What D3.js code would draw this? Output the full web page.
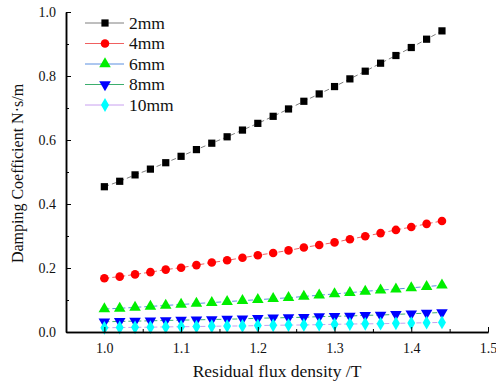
<!DOCTYPE html>
<html>
<head>
<meta charset="utf-8">
<script src="https://cdn.jsdelivr.net/npm/d3@7/dist/d3.min.js"></script>
<style>
  html, body { margin: 0; padding: 0; background: #fff; }
  svg { display: block; }
  text { font-family: "Liberation Serif", "Times New Roman", serif; fill: #111; }
</style>
</head>
<body>
<svg id="chart" width="496" height="383"></svg>
<script>
// Residual flux density (T)
const fluxDensity = [1.00, 1.02, 1.04, 1.06, 1.08, 1.10, 1.12, 1.14, 1.16, 1.18, 1.20, 1.22,
                     1.24, 1.26, 1.28, 1.30, 1.32, 1.34, 1.36, 1.38, 1.40, 1.42, 1.44];

// Damping coefficient (N·s/m) for each gap
const gap2mm  = [0.454, 0.471, 0.491, 0.509, 0.529, 0.549, 0.570, 0.590, 0.610, 0.631, 0.652, 0.674,
                 0.697, 0.721, 0.744, 0.767, 0.791, 0.815, 0.840, 0.864, 0.889, 0.915, 0.941];
const gap4mm  = [0.168, 0.173, 0.180, 0.187, 0.195, 0.201, 0.209, 0.217, 0.224, 0.232, 0.240, 0.247,
                 0.255, 0.264, 0.272, 0.280, 0.290, 0.299, 0.309, 0.319, 0.328, 0.338, 0.347];
const gap6mm  = [0.072, 0.074, 0.077, 0.080, 0.083, 0.086, 0.089, 0.092, 0.095, 0.098, 0.101, 0.104,
                 0.107, 0.111, 0.115, 0.119, 0.123, 0.127, 0.131, 0.134, 0.138, 0.142, 0.146];
const gap8mm  = [0.032, 0.033, 0.034, 0.035, 0.036, 0.037, 0.038, 0.039, 0.040, 0.041, 0.043, 0.044,
                 0.045, 0.046, 0.048, 0.049, 0.050, 0.052, 0.053, 0.055, 0.057, 0.059, 0.061];
const gap10mm = [0.013, 0.014, 0.0145, 0.015, 0.016, 0.0165, 0.017, 0.018, 0.0185, 0.019, 0.020, 0.021,
                 0.0215, 0.022, 0.023, 0.024, 0.025, 0.0255, 0.026, 0.027, 0.028, 0.029, 0.030];

const seriesNames = ["2mm", "4mm", "6mm", "8mm", "10mm"];
const xTicks = [1.0, 1.1, 1.2, 1.3, 1.4, 1.5];
const yTicks = [0.0, 0.2, 0.4, 0.6, 0.8, 1.0];

const styles = [
  { values: gap2mm,  fill: "#000000", line: "#7f7f7f", symbol: d3.symbolSquare,   size: 52, rot: 0 },
  { values: gap4mm,  fill: "#ff0000", line: "#f06060", symbol: d3.symbolCircle,   size: 58, rot: 0 },
  { values: gap6mm,  fill: "#00ee00", line: "#5b8fe0", symbol: d3.symbolTriangle, size: 58, rot: 0 },
  { values: gap8mm,  fill: "#0000ff", line: "#3cae6e", symbol: d3.symbolTriangle, size: 58, rot: 180 },
  { values: gap10mm, fill: "#00ffff", line: "#c8a0f0", symbol: d3.symbolDiamond,  size: 55, rot: 0 }
];

const svg = d3.select("#chart");
const margin = { left: 66, right: 8, top: 12, bottom: 51 };
const W = 496, H = 383;

const x = d3.scaleLinear().domain([0.95, 1.5]).range([margin.left, W - margin.right]);
const y = d3.scaleLinear().domain([0, 1.0]).range([H - margin.bottom, margin.top]);

// Series: dashed connecting lines then markers
const line = d3.line().x((d, i) => x(fluxDensity[i])).y(d => y(d));
styles.forEach(s => {
  svg.append("path")
    .attr("d", line(s.values))
    .attr("fill", "none")
    .attr("stroke", s.line)
    .attr("stroke-width", 1)
    .attr("stroke-dasharray", "5,3");
});
styles.forEach(s => {
  const sym = d3.symbol().type(s.symbol).size(s.size);
  svg.append("g").selectAll("path")
    .data(s.values)
    .join("path")
    .attr("d", sym)
    .attr("fill", s.fill)
    .attr("transform", (d, i) => `translate(${x(fluxDensity[i])},${y(d)}) rotate(${s.rot})`);
});

// Axes with inward ticks
const xAxis = d3.axisBottom(x).tickValues(xTicks).tickFormat(d3.format(".1f")).tickSizeInner(-5).tickSizeOuter(0).tickPadding(11);
const xMinor = d3.axisBottom(x).tickValues(d3.range(1.05, 1.5, 0.1)).tickFormat("").tickSizeInner(-3).tickSizeOuter(0);
const yAxis = d3.axisLeft(y).tickValues(yTicks).tickFormat(d3.format(".1f")).tickSizeInner(-5).tickSizeOuter(0).tickPadding(10);
const yMinor = d3.axisLeft(y).tickValues([0.1, 0.3, 0.5, 0.7, 0.9]).tickFormat("").tickSizeInner(-3).tickSizeOuter(0);

function styleAxis(g) {
  g.select(".domain").attr("stroke", "#000").attr("stroke-width", 1.5);
  g.selectAll(".tick line").attr("stroke", "#000").attr("stroke-width", 1);
  g.selectAll(".tick text").attr("font-family", "Liberation Serif, serif").attr("font-size", 14).attr("fill", "#222");
}

svg.append("g").attr("transform", `translate(0,${H - margin.bottom})`).call(xMinor).call(styleAxis);
svg.append("g").attr("transform", `translate(0,${H - margin.bottom})`).call(xAxis).call(styleAxis);
svg.append("g").attr("transform", `translate(${margin.left},0)`).call(yMinor).call(styleAxis);
svg.append("g").attr("transform", `translate(${margin.left},0)`).call(yAxis).call(styleAxis);

// Axis titles
svg.append("text")
  .attr("x", (x.range()[0] + x.range()[1]) / 2)
  .attr("y", 377)
  .attr("text-anchor", "middle")
  .attr("font-size", 17.5)
  .text("Residual flux density /T");

svg.append("text")
  .attr("transform", `translate(23,173.5) rotate(-90)`)
  .attr("text-anchor", "middle")
  .attr("font-size", 16)
  .text("Damping Coefficient N·s/m");

// Legend
const legend = svg.append("g");
styles.forEach((s, i) => {
  const ly = 23 + i * 20.5;
  legend.append("line")
    .attr("x1", 85).attr("x2", 124).attr("y1", ly).attr("y2", ly)
    .attr("stroke", s.line).attr("stroke-width", 1);
  legend.append("path")
    .attr("d", d3.symbol().type(s.symbol).size(s.size)())
    .attr("fill", s.fill)
    .attr("transform", `translate(105,${ly}) rotate(${s.rot})`);
  legend.append("text")
    .attr("x", 129).attr("y", ly + 5.5)
    .attr("font-size", 17.5)
    .text(seriesNames[i]);
});
</script>
</body>
</html>
